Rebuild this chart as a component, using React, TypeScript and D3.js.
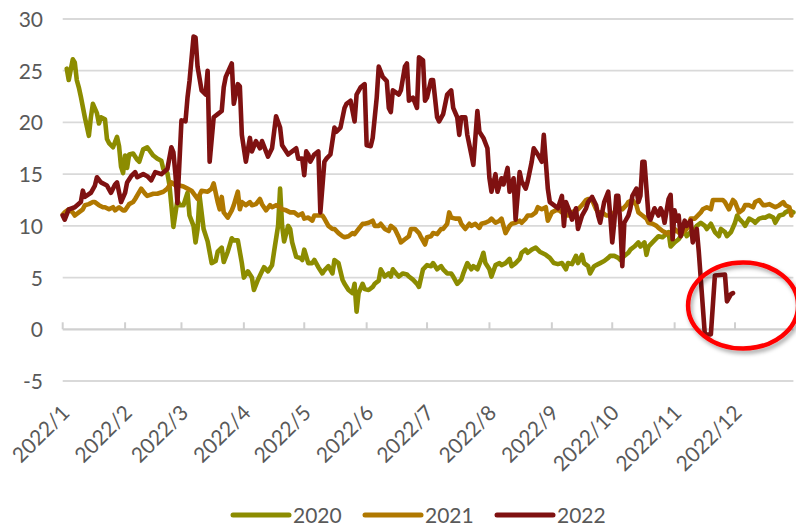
import React from 'react';
import * as d3 from 'd3';

const seriesNames = ['2020', '2021', '2022'];
const seriesColors = ['#8C8C00', '#B07800', '#7F1111'];
const monthLabels = ['2022/1', '2022/2', '2022/3', '2022/4', '2022/5', '2022/6', '2022/7', '2022/8', '2022/9', '2022/10', '2022/11', '2022/12'];
const monthStartDays = [0, 31, 59, 90, 120, 151, 181, 212, 243, 273, 304, 334];
const yTicks = [-5, 0, 5, 10, 15, 20, 25, 30];

// [day of year (0 = Jan 1), value]
const series2020: [number, number][] = [[2,25.2],[3,24.1],[5,26.1],[6,25.8],[7,24.1],[8,23.4],[9,22.5],[11,20.5],[12,19.6],[13,18.7],[14,20.5],[15,21.8],[17,20.9],[18,19.9],[19,20.5],[21,20.3],[22,18.4],[23,18.0],[25,17.6],[27,18.6],[28,17.7],[29,15.7],[30,15.1],[31,16.8],[32,15.6],[33,16.9],[35,17.0],[37,16.4],[38,16.2],[40,17.4],[42,17.6],[45,16.8],[47,16.5],[49,16.3],[50,15.5],[52,15.1],[53,14.0],[55,9.9],[57,12.5],[58,12.0],[60,12.0],[62,13.2],[63,11.0],[65,10.0],[66,8.4],[67,9.7],[68,12.9],[70,9.7],[72,8.5],[74,6.4],[76,6.6],[77,7.5],[79,7.9],[80,6.5],[82,7.5],[84,8.8],[85,8.6],[87,8.6],[89,6.4],[90,5.0],[92,5.6],[94,5.0],[95,3.8],[97,4.8],[99,5.6],[100,6.0],[102,5.6],[104,6.2],[105,7.5],[107,10.0],[108,13.6],[109,10.0],[110,8.5],[112,10.0],[113,9.7],[114,8.4],[116,7.0],[118,6.9],[119,6.7],[120,7.7],[122,6.4],[124,6.4],[125,6.7],[127,6.0],[129,5.4],[130,5.7],[132,6.1],[134,5.4],[135,6.7],[137,6.4],[139,4.8],[140,4.4],[142,3.8],[144,3.5],[145,4.4],[146,1.7],[147,3.5],[149,4.4],[150,3.9],[152,3.8],[154,4.1],[155,4.4],[157,4.7],[158,5.8],[160,5.1],[162,5.4],[163,5.1],[164,5.8],[166,5.3],[167,5.1],[169,5.4],[171,5.3],[172,5.1],[174,4.8],[176,4.4],[177,4.1],[179,5.8],[181,6.2],[183,6.1],[184,6.4],[186,5.8],[188,6.1],[189,5.8],[191,5.4],[193,5.4],[194,5.1],[196,4.4],[198,4.8],[199,5.4],[201,6.4],[203,5.8],[204,6.1],[206,5.8],[208,6.8],[209,7.4],[210,6.4],[212,5.8],[213,5.1],[215,6.2],[217,6.4],[218,6.2],[220,6.4],[222,6.8],[223,6.1],[225,6.4],[227,6.8],[228,7.4],[230,7.7],[231,7.4],[233,7.7],[235,7.9],[237,7.5],[238,7.4],[240,7.2],[242,6.9],[244,6.4],[246,6.3],[248,6.4],[250,5.8],[251,6.4],[253,6.3],[255,7.1],[256,6.4],[258,7.2],[259,6.4],[261,6.1],[262,5.4],[264,6.1],[266,6.3],[267,6.4],[269,6.6],[271,6.9],[272,7.1],[274,7.1],[276,6.9],[277,6.7],[279,7.1],[281,7.4],[282,7.7],[284,8.0],[286,8.4],[287,8.0],[289,8.4],[290,7.2],[291,8.0],[293,8.4],[296,9.0],[298,8.9],[301,9.4],[302,8.0],[304,8.4],[306,8.7],[307,9.0],[309,9.5],[310,9.0],[312,9.4],[314,9.7],[315,10.0],[317,10.3],[319,10.0],[320,9.7],[322,10.2],[324,9.4],[326,9.0],[327,9.7],[329,9.4],[330,9.0],[332,9.4],[334,10.3],[335,11.0],[336,10.7],[338,10.3],[339,10.0],[341,10.7],[343,10.5],[344,10.3],[346,10.7],[348,10.8],[349,10.8],[351,11.0],[353,10.8],[354,10.3],[356,11.0],[358,11.1],[359,11.3],[361,11.5],[363,11.3]];

const series2021: [number, number][] = [[0,11.1],[1,11.3],[3,11.6],[5,11.3],[6,11.0],[8,11.3],[10,11.6],[11,12.0],[13,12.1],[15,12.3],[16,12.3],[18,12.0],[20,11.8],[21,11.8],[23,11.6],[25,11.8],[26,11.5],[28,11.8],[30,11.5],[31,11.5],[33,12.1],[35,12.3],[36,12.6],[39,13.6],[41,13.1],[42,12.9],[45,13.1],[47,13.1],[50,13.3],[52,13.6],[54,14.2],[56,13.9],[58,13.9],[60,13.8],[62,13.6],[64,13.4],[67,12.6],[69,13.4],[72,13.3],[74,13.6],[75,14.1],[77,12.3],[78,11.6],[79,12.8],[80,11.3],[82,10.8],[84,11.5],[85,12.0],[87,13.3],[88,11.6],[89,12.3],[91,12.0],[93,12.3],[94,12.0],[96,12.1],[98,12.6],[99,12.1],[101,11.5],[103,12.0],[104,11.8],[106,12.0],[108,11.8],[109,11.6],[111,11.5],[113,11.3],[115,11.3],[117,11.0],[119,11.2],[120,10.7],[122,10.8],[124,10.5],[125,11.0],[127,11.0],[129,11.0],[130,10.7],[132,10.0],[134,9.7],[135,9.7],[137,9.3],[139,9.0],[140,8.9],[142,9.0],[144,9.3],[145,9.2],[147,9.7],[149,10.2],[150,10.2],[152,10.3],[154,10.5],[155,10.0],[157,10.0],[158,10.2],[160,9.7],[162,9.5],[163,10.0],[165,9.7],[167,8.9],[168,8.4],[170,8.7],[172,9.0],[173,9.7],[175,9.7],[177,9.3],[178,8.9],[180,8.2],[181,8.9],[183,9.0],[184,9.3],[186,9.2],[188,9.7],[189,9.7],[191,10.2],[192,11.3],[193,10.8],[195,10.7],[197,10.7],[198,10.2],[200,9.7],[202,10.2],[203,10.0],[205,10.2],[207,9.8],[208,10.2],[210,10.3],[212,10.5],[213,10.7],[215,10.3],[217,10.5],[218,10.7],[220,9.3],[222,10.0],[223,10.2],[225,10.3],[227,10.5],[228,10.3],[230,10.7],[231,11.0],[233,11.0],[235,11.3],[236,11.8],[238,11.6],[240,11.8],[241,10.5],[243,11.3],[246,11.6],[248,11.3],[251,11.0],[253,11.3],[256,11.6],[258,12.0],[260,12.5],[261,12.6],[263,12.5],[265,11.6],[266,11.3],[268,11.3],[270,11.0],[271,11.0],[273,11.0],[275,11.6],[276,11.8],[278,11.6],[280,12.0],[281,12.3],[283,12.5],[285,12.0],[286,11.3],[288,11.0],[290,10.7],[291,10.3],[293,10.2],[295,10.0],[296,9.8],[298,9.5],[300,9.3],[301,9.3],[303,9.2],[304,9.7],[307,9.2],[310,9.7],[312,10.7],[314,10.7],[317,11.3],[318,11.6],[320,11.8],[322,11.6],[323,12.5],[326,12.5],[328,12.5],[329,12.3],[331,11.6],[333,12.5],[334,12.3],[336,11.3],[338,11.6],[339,12.0],[341,12.0],[343,11.8],[344,12.3],[346,12.5],[348,12.0],[349,12.0],[351,12.1],[354,11.8],[356,12.0],[358,12.3],[359,12.0],[361,11.8],[362,11.0]];

const series2022: [number, number][] = [[0,11.0],[1,10.6],[3,11.6],[6,11.8],[9,12.3],[10,13.4],[11,12.8],[14,13.2],[16,13.9],[17,14.7],[19,14.2],[22,13.9],[24,13.2],[26,14.0],[27,14.2],[29,12.3],[31,13.2],[32,14.2],[34,14.8],[36,15.2],[37,14.7],[40,15.0],[42,14.8],[44,14.4],[46,15.2],[49,15.0],[52,15.5],[54,17.6],[55,17.1],[56,15.0],[57,12.2],[59,20.2],[61,20.1],[62,22.4],[63,24.0],[65,28.3],[66,28.2],[67,25.4],[69,23.1],[71,22.7],[72,25.0],[73,16.2],[75,20.5],[77,20.8],[79,21.1],[80,23.4],[81,24.4],[84,25.7],[85,21.8],[87,23.7],[88,23.5],[89,18.8],[91,16.2],[93,18.5],[94,17.2],[96,18.2],[98,17.5],[99,18.2],[102,16.7],[104,17.5],[106,20.6],[108,19.5],[109,17.8],[112,16.9],[114,17.2],[116,17.5],[117,16.5],[119,16.5],[120,14.9],[121,17.2],[122,16.9],[123,16.2],[125,16.9],[127,17.2],[128,11.3],[130,16.2],[131,16.5],[133,16.9],[135,19.5],[136,19.1],[138,19.5],[140,21.4],[141,21.8],[143,22.1],[145,20.1],[146,22.7],[148,23.4],[150,23.7],[151,17.8],[153,17.7],[154,18.5],[156,22.4],[157,25.4],[159,24.4],[161,24.0],[162,21.4],[163,21.0],[164,23.1],[167,22.7],[168,23.1],[170,25.4],[171,25.7],[172,22.1],[174,22.4],[176,21.4],[177,26.3],[179,26.0],[180,22.1],[181,22.4],[183,24.1],[184,24.1],[186,20.5],[187,20.1],[189,20.8],[191,22.7],[193,23.1],[194,21.4],[196,20.5],[197,18.8],[198,20.5],[200,20.5],[201,18.8],[203,16.9],[204,15.9],[206,21.1],[207,19.1],[209,18.5],[211,17.5],[212,14.6],[213,13.3],[215,15.0],[216,13.3],[218,14.6],[219,14.0],[221,15.6],[222,13.3],[224,14.6],[225,10.6],[227,15.2],[228,14.3],[230,13.6],[231,14.3],[233,16.2],[234,17.5],[236,16.9],[238,16.2],[239,18.8],[240,16.2],[241,13.6],[242,12.3],[244,12.0],[246,11.7],[248,12.9],[249,10.0],[250,12.3],[252,11.3],[253,10.6],[255,11.7],[256,9.7],[258,11.0],[260,11.7],[261,12.3],[263,12.8],[265,12.0],[266,11.0],[267,10.3],[269,12.3],[271,13.3],[272,11.0],[273,8.4],[274,10.3],[275,12.9],[276,12.9],[277,10.3],[278,6.1],[279,10.3],[281,11.0],[282,11.7],[283,12.9],[285,13.6],[286,12.3],[287,12.9],[288,16.2],[289,16.2],[291,11.0],[292,10.6],[294,11.7],[296,11.0],[297,11.7],[298,11.3],[299,10.3],[301,12.6],[302,13.0],[303,8.7],[304,11.5],[305,10.5],[306,11.0],[307,9.0],[309,10.5],[310,10.0],[312,10.5],[313,8.4],[315,9.7],[316,7.5],[319,-0.5],[322,-0.5],[324,5.2],[329,5.3],[330,2.7],[332,3.4],[333,3.5]];

const allSeries = [series2020, series2021, series2022];

// annotation ellipse centre (day, value)
const highlightDay = 338;
const highlightValue = 2.3;

const W = 796;
const H = 526;
const FONT = 'Lato, "Open Sans", sans-serif';
const TEXT_COLOR = '#595959';

export default function App() {
  const x = d3.scaleLinear().domain([0, 363]).range([62.7, 793.4]);
  const y = d3.scaleLinear().domain([-5, 30]).range([381, 19]);
  const line = d3
    .line<[number, number]>()
    .x((d) => x(d[0]))
    .y((d) => y(d[1]))
    .curve(d3.curveLinear);

  const legendX = [233, 365, 497];
  const legendY = 515;

  return (
    <svg
      width={W}
      height={H}
      style={{ position: 'absolute', left: 0, top: 0, background: '#fff' }}
      fontFamily={FONT}
    >
      <defs>
        <filter id="shadow" x="-20%" y="-20%" width="140%" height="140%">
          <feDropShadow dx="2" dy="3" stdDeviation="2" floodColor="#000" floodOpacity="0.35" />
        </filter>
      </defs>
      <rect width={W} height={H} fill="#fff" />
      {yTicks.map((t) => (
        <g key={t}>
          {t !== 0 && (
            <line x1={x(0)} x2={x(363)} y1={y(t)} y2={y(t)} stroke="#D9D9D9" strokeWidth={1.8} />
          )}
          <text x={43} y={y(t) + 8} textAnchor="end" fontSize={21} fill={TEXT_COLOR}>
            {t}
          </text>
        </g>
      ))}
      <line x1={x(0)} x2={x(363)} y1={y(0)} y2={y(0)} stroke="#D0D0D0" strokeWidth={2.2} />
      {monthStartDays.map((d, i) => (
        <g key={d}>
          <line x1={x(d)} x2={x(d)} y1={y(0) - 7} y2={y(0)} stroke="#D0D0D0" strokeWidth={2} />
          <text
            transform={`translate(${x(d) + 3},${409}) rotate(-45)`}
            textAnchor="end"
            dy="0.35em"
            fontSize={21}
            fill={TEXT_COLOR}
          >
            {monthLabels[i]}
          </text>
        </g>
      ))}
      {allSeries.map((s, i) => (
        <path
          key={seriesNames[i]}
          d={line(s) || ''}
          fill="none"
          stroke={seriesColors[i]}
          strokeWidth={4.6}
          strokeLinejoin="round"
          strokeLinecap="round"
        />
      ))}
      <ellipse
        cx={x(highlightDay)}
        cy={y(highlightValue)}
        rx={55}
        ry={43}
        fill="none"
        stroke="#FF0000"
        strokeWidth={4.5}
        filter="url(#shadow)"
      />
      {seriesNames.map((n, i) => (
        <g key={n}>
          <line
            x1={legendX[i]}
            x2={legendX[i] + 56}
            y1={legendY}
            y2={legendY}
            stroke={seriesColors[i]}
            strokeWidth={5}
            strokeLinecap="round"
          />
          <text x={legendX[i] + 60} y={legendY + 7.5} fontSize={21} fill={TEXT_COLOR}>
            {n}
          </text>
        </g>
      ))}
    </svg>
  );
}
